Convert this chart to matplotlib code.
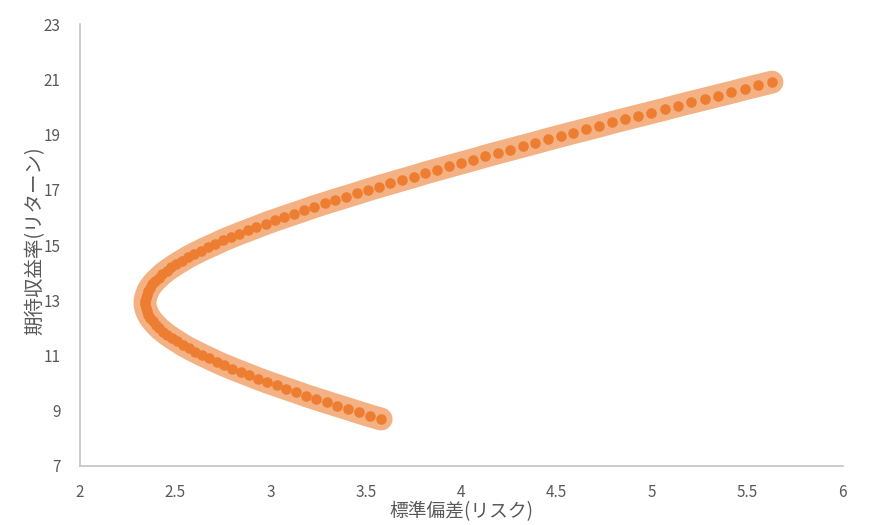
import matplotlib
matplotlib.use("Agg")
import matplotlib.pyplot as plt

# expected return (y) and risk / standard deviation (x)
returns = [8.70, 8.82, 8.94, 9.07, 9.19, 9.31, 9.43, 9.55, 9.68, 9.80,
           9.92, 10.04, 10.16, 10.29, 10.41, 10.53, 10.65, 10.77, 10.90, 11.02,
           11.14, 11.26, 11.38, 11.51, 11.63, 11.75, 11.87, 11.99, 12.12, 12.24,
           12.36, 12.48, 12.60, 12.73, 12.85, 12.97, 13.09, 13.21, 13.34, 13.46,
           13.58, 13.70, 13.82, 13.95, 14.07, 14.19, 14.31, 14.43, 14.56, 14.68,
           14.80, 14.92, 15.04, 15.17, 15.29, 15.41, 15.53, 15.65, 15.78, 15.90,
           16.02, 16.14, 16.26, 16.39, 16.51, 16.63, 16.75, 16.87, 17.00, 17.12,
           17.24, 17.36, 17.48, 17.61, 17.73, 17.85, 17.97, 18.09, 18.22, 18.34,
           18.46, 18.58, 18.70, 18.83, 18.95, 19.07, 19.19, 19.31, 19.44, 19.56,
           19.68, 19.80, 19.92, 20.05, 20.17, 20.29, 20.41, 20.53, 20.66, 20.78,
           20.90]

risks = [3.579, 3.520, 3.462, 3.405, 3.348, 3.293, 3.238, 3.185, 3.132, 3.081,
         3.031, 2.981, 2.934, 2.887, 2.842, 2.798, 2.756, 2.716, 2.677, 2.640,
         2.605, 2.571, 2.540, 2.511, 2.483, 2.458, 2.436, 2.415, 2.397, 2.381,
         2.368, 2.358, 2.350, 2.344, 2.341, 2.341, 2.344, 2.349, 2.356, 2.366,
         2.379, 2.394, 2.412, 2.432, 2.454, 2.479, 2.505, 2.534, 2.565, 2.598,
         2.633, 2.670, 2.709, 2.749, 2.791, 2.834, 2.879, 2.925, 2.973, 3.022,
         3.072, 3.123, 3.175, 3.228, 3.283, 3.338, 3.395, 3.452, 3.510, 3.568,
         3.628, 3.688, 3.749, 3.810, 3.872, 3.935, 3.998, 4.062, 4.126, 4.190,
         4.256, 4.321, 4.387, 4.454, 4.520, 4.587, 4.655, 4.723, 4.791, 4.859,
         4.928, 4.997, 5.066, 5.136, 5.205, 5.276, 5.346, 5.416, 5.487, 5.558,
         5.629]

xticks = [2, 2.5, 3, 3.5, 4, 4.5, 5, 5.5, 6]
yticks = [7, 9, 11, 13, 15, 17, 19, 21, 23]

def main():
    plt.rcParams['font.family'] = ['Noto Sans CJK JP', 'DejaVu Sans']
    fig = plt.figure(figsize=(8.9, 5.25), dpi=100)
    ax = fig.add_axes([0.0899, 0.1124, 0.857, 0.8416])

    ax.plot(risks, returns, color='#F4B183', linewidth=16.5,
            solid_capstyle='round', solid_joinstyle='round', zorder=1)
    ax.plot(risks, returns, linestyle='none', marker='o', markersize=7.6,
            markerfacecolor='#ED7D31', markeredgewidth=0, zorder=2)

    ax.set_xlim(2, 6)
    ax.set_ylim(7, 23)
    ax.set_xticks(xticks)
    ax.set_xticklabels([('%g' % t) for t in xticks])
    ax.set_yticks(yticks)

    for side in ['top', 'right']:
        ax.spines[side].set_visible(False)
    for side in ['left', 'bottom']:
        ax.spines[side].set_color('#BFBFBF')
        ax.spines[side].set_linewidth(1.1)

    ax.tick_params(length=0, labelsize=11, labelcolor='#595959')
    ax.tick_params(axis='x', pad=13)
    ax.tick_params(axis='y', pad=14)

    ax.set_xlabel('標準偏差(リスク)', fontsize=13.5, color='#595959', labelpad=0)
    ax.set_ylabel('期待収益率(リターン)', fontsize=14, color='#595959')
    ax.yaxis.set_label_coords(-0.046, 0.51)

    plt.savefig('out.png', dpi=100)

if __name__ == "__main__":
    main()
